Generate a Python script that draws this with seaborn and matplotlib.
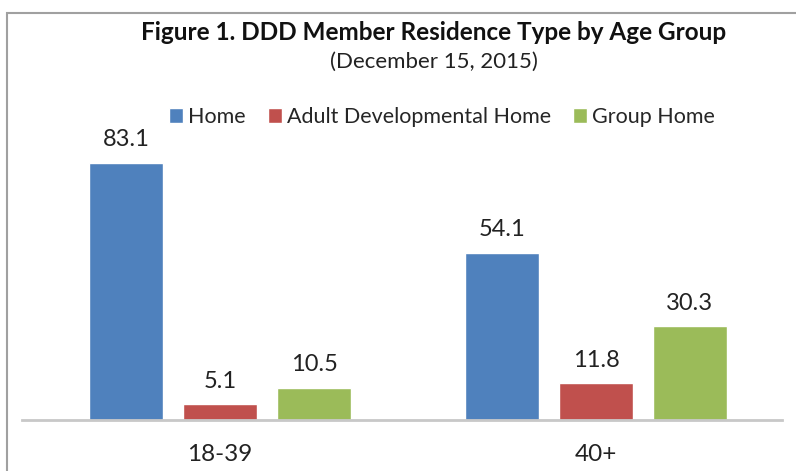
import seaborn as sns
import matplotlib.pyplot as plt
from matplotlib.patches import Rectangle
import pandas as pd

age_groups = ['18-39', '40+']
residence_types = ['Home', 'Adult Developmental Home', 'Group Home']
home = [83.1, 54.1]
adult_dev_home = [5.1, 11.8]
group_home = [10.5, 30.3]
colors = ['#4F81BD', '#C0504D', '#9BBB59']

sns.set_style('white')
plt.rcParams['font.family'] = ['Lato', 'DejaVu Sans']

rows = []
for name, vals in zip(residence_types, [home, adult_dev_home, group_home]):
    for g, v in zip(age_groups, vals):
        rows.append({'Age Group': g, 'Type': name, 'Percent': v})
data = pd.DataFrame(rows)

fig = plt.figure(figsize=(7.96, 4.71), dpi=100)
ax = fig.add_axes([22 / 796, 51 / 471, 760 / 796, 280 / 471])

sns.barplot(data=data, x='Age Group', y='Percent', hue='Type', order=age_groups,
            hue_order=residence_types, palette=colors, width=0.75, gap=0.22, ax=ax,
            legend=True, saturation=1)

for cont in ax.containers:
    ax.bar_label(cont, fmt='%.1f', padding=9, fontsize=17, color='#222222')

ax.set_xlim(-0.527, 1.495)
ax.set_ylim(0, 90.5)
ax.set_xlabel('')
ax.set_ylabel('')
ax.set_yticks([])
ax.tick_params(axis='x', length=0, labelsize=17.5, pad=17, colors='#222222')
for s in ['left', 'right', 'top']:
    ax.spines[s].set_visible(False)
ax.spines['bottom'].set_color('#C8C8C8')
ax.spines['bottom'].set_linewidth(2)

handles, labels = ax.get_legend_handles_labels()
ax.get_legend().remove()
fig.legend(handles, labels, loc='center', bbox_to_anchor=(442 / 796, 1 - 117 / 471),
           ncol=3, frameon=False, fontsize=15.5, handlelength=0.65, handleheight=0.65,
           handletextpad=0.25, columnspacing=1.0)

fig.text(434 / 796, 1 - 33 / 471, 'Figure 1. DDD Member Residence Type by Age Group',
         ha='center', va='center', fontsize=17.5, fontweight='bold', color='#111111')
fig.text(434 / 796, 1 - 62 / 471, '(December 15, 2015)',
         ha='center', va='center', fontsize=16, color='#222222')

fig.patches.append(Rectangle((7 / 796, -0.1), 1.2, 1.1 - 13 / 471, transform=fig.transFigure,
                             fill=False, edgecolor='#A0A0A0', linewidth=1.5))

fig.savefig('out.png', dpi=100)
